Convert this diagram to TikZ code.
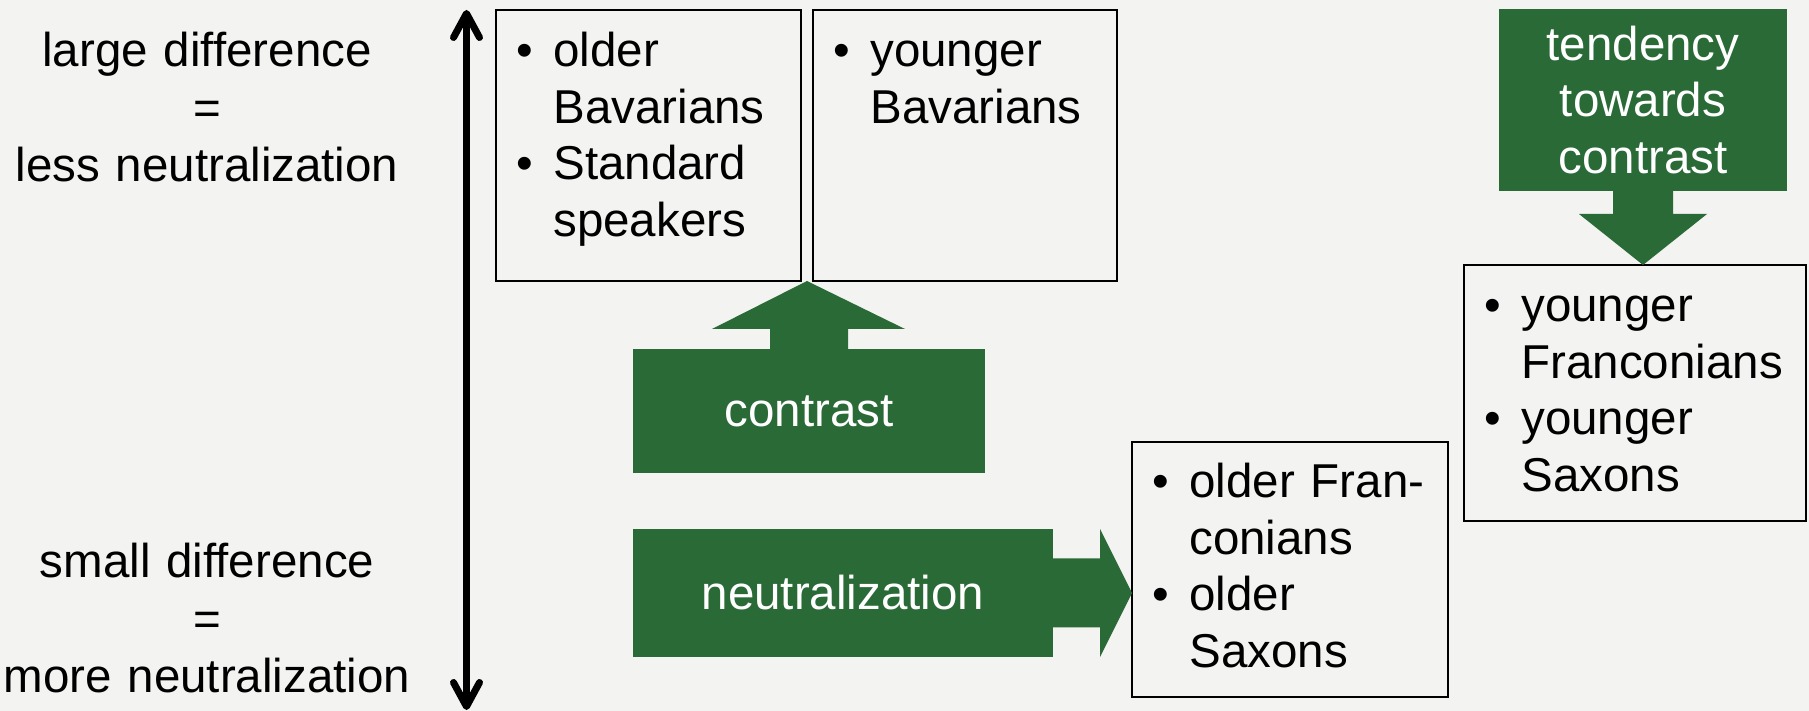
\documentclass[tikz,border=0pt]{standalone}
\usepackage{fontspec}
\setmainfont{Liberation Sans}
\usetikzlibrary{positioning,calc,arrows.meta}
\definecolor{bggrey}{HTML}{F3F3F1}
\definecolor{slidegreen}{HTML}{2A6A37}
\newcommand{\bitem}{\leavevmode\llap{\textbullet\hspace{10.35pt}}}
\tikzset{
  every node/.style={font=\fontsize{23.75pt}{28.25pt}\selectfont},
  groupbox/.style={draw=black, line width=1pt, inner sep=0pt, outer sep=0pt},
  grouplist/.style={anchor=base west, text width=140pt, align=left, inner sep=0pt},
  scaletext/.style={anchor=base, text width=220pt, align=center, inner sep=0pt,
    font=\fontsize{23.75pt}{28.75pt}\selectfont},
  greenbody/.style={fill=slidegreen, text=white, inner sep=0pt, outer sep=0pt},
  scalearrow/.style={line width=3.5pt,
    {Straight Barb[length=12pt,width=13pt,round]}-{Straight Barb[length=12pt,width=13pt,round]}}
}
\begin{document}
\begin{tikzpicture}[x=0.5pt, y=0.5pt]
  \fill[bggrey] (0,0) rectangle (1809,711);
  \useasboundingbox (0,0) rectangle (1809,711);
  % scale on the left
  \coordinate (scaletop) at (466.5,701);
  \coordinate (scalebot) at (466.5,1);
  \draw[scalearrow] (scaletop) -- (scalebot);
  \node[scaletext] (large) at (207,644) {large difference\\=\\less neutralization};
  \node[scaletext] (small) at (207,133) {small difference\\=\\more neutralization};
  % speaker groups
  \node[groupbox, minimum width=152.5pt, minimum height=135.5pt] (oldbav) at (648.5,565.5) {};
  \node[groupbox, minimum width=152pt, minimum height=135.5pt] (youngbav) at (965,565.5) {};
  \node[groupbox, minimum width=158pt, minimum height=127.5pt] (oldfs) at (1290,141.5) {};
  \node[groupbox, minimum width=171pt, minimum height=128pt] (youngfs) at (1635,318) {};
  \node[grouplist] (oldbavlist) at ($(oldbav.north west)+(57,-57)$)
    {\bitem older\\Bavarians\\\bitem Standard\\speakers};
  \node[grouplist] (youngbavlist) at ($(youngbav.north west)+(57,-57)$)
    {\bitem younger\\Bavarians};
  \node[grouplist] (oldfslist) at ($(oldfs.north west)+(57,-56)$)
    {\bitem older Fran-\\conians\\\bitem older\\Saxons};
  \node[grouplist] (youngfslist) at ($(youngfs.north west)+(57,-57)$)
    {\bitem younger\\Franconians\\\bitem younger\\Saxons};
  % contrast
  \node[greenbody, minimum width=176pt, minimum height=62pt] (contrast) at (809,300) {contrast};
  \coordinate (contrasttip) at ($(oldbav.south east)!0.5!(youngbav.south west)$);
  \fill[slidegreen] ($(contrast.north)+(-39,-1)$) -- ++(0,21) -- ++(-58,0) -- (contrasttip)
    -- ($(contrast.north)+(96,20)$) -- ++(-57,0) -- ++(0,-21) -- cycle;
  % neutralization
  \node[greenbody, minimum width=210pt, minimum height=64pt] (neutral) at (843,118) {neutralization};
  \coordinate (neutraltip) at (neutral.east -| oldfs.west);
  \fill[slidegreen] ($(neutral.east)+(-1,34.5)$) -- ++(48,0) -- ++(0,29.5) -- (neutraltip)
    -- ($(neutral.east)+(47,-64)$) -- ++(0,29.5) -- ++(-48,0) -- cycle;
  % tendency towards contrast
  \node[greenbody, minimum width=144pt, minimum height=91pt, text width=144pt, align=center]
    (tendency) at (1643,611) {tendency\\towards\\contrast};
  \coordinate (tendencytip) at (tendency.south |- youngfs.north);
  \fill[slidegreen] ($(tendency.south)+(-30,1)$) -- ++(0,-24) -- ++(-34,0) -- (tendencytip)
    -- ($(tendency.south)+(64,-23)$) -- ++(-34,0) -- ++(0,24) -- cycle;
\end{tikzpicture}
\end{document}
